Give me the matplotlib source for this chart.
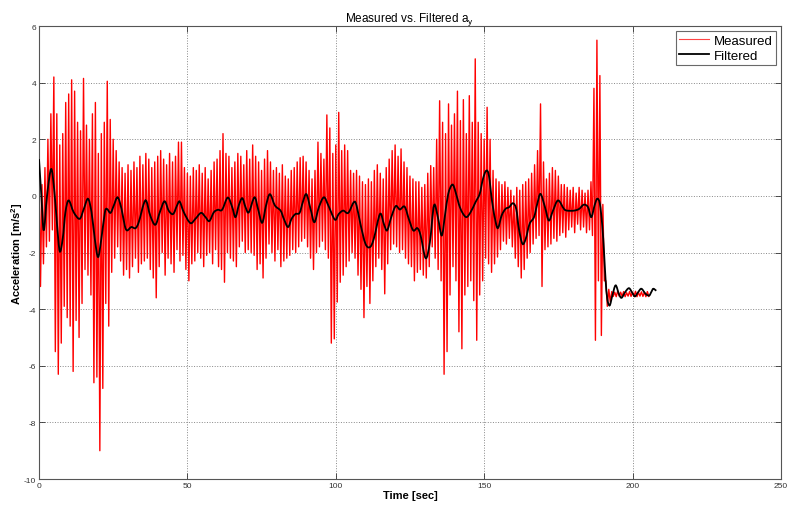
import numpy as np
import matplotlib
matplotlib.use("Agg")
import matplotlib.pyplot as plt
from matplotlib.path import Path
from matplotlib.patches import PathPatch
from matplotlib.lines import Line2D

# ---- data ----
# Measured signal: per-second upper / lower swings (t = 0..205 s)
meas_hi = [
    1.3, 0.4, 1.0, 2.0, 2.9, 4.2, 2.9, 1.8, 2.2, 3.3,
    3.6, 4.1, 3.7, 2.6, 2.3, 4.15, 2.5, 2.0, 2.9, 3.3,
    1.5, 2.2, 2.6, 4.05, 2.7, 2.0, 1.6, 1.2, 1.0, 0.8,
    1.1, 0.9, 1.2, 1.0, 1.4, 1.1, 1.5, 1.3, 1.0, 1.2,
    1.4, 1.6, 1.3, 1.1, 1.5, 1.2, 1.4, 1.9, 1.9, 1.0,
    0.8, 0.7, 1.0, 0.9, 1.1, 0.8, 1.0, 0.6, 0.9, 1.2,
    1.3, 1.6, 2.2, 1.5, 1.4, 1.0, 1.2, 1.5, 1.4, 1.1,
    1.6, 1.3, 1.8, 1.4, 1.2, 0.9, 1.3, 1.6, 1.2, 0.9,
    1.0, 0.8, 1.1, 0.7, 0.6, 0.9, 1.0, 1.2, 1.35, 1.4,
    1.2, 0.9, 0.6, 0.9, 1.9, 1.5, 1.3, 2.86, 2.4, 1.5,
    1.8, 2.95, 1.6, 1.8, 1.6, 0.9, 0.8, 0.9, 0.7, 0.5,
    0.4, 0.6, 0.5, 0.9, 1.1, 0.8, 0.6, 1.0, 1.3, 1.6,
    1.8, 1.4, 1.66, 1.2, 1.0, 0.7, 0.6, 0.5, 0.5, 0.3,
    0.4, 0.8, 1.07, 1.0, 2.0, 3.36, 2.6, 2.2, 3.25, 2.5,
    2.9, 3.7, 2.66, 3.4, 2.2, 3.54, 2.6, 4.84, 2.6, 2.2,
    2.0, 3.13, 2.0, 0.9, 0.6, 0.5, 0.4, 0.5, 0.3, 0.2,
    0.0, 0.3, 0.2, 0.4, 0.5, 0.6, 0.8, 1.1, 1.6, 3.25,
    1.2, 0.6, 0.8, 1.0, 0.9, 0.7, 0.4, 0.4, 0.3, 0.2,
    0.3, 0.1, 0.3, 0.2, 0.1, 0.2, 0.5, 3.8, 5.5, 4.25,
    -0.3, -3.0, -3.3, -3.38, -3.4, -3.36, -3.4, -3.38, -3.42, -3.38,
    -3.4, -3.37, -3.41, -3.39, -3.4, -3.38,
]
meas_lo = [
    -3.2, -2.4, -1.8, -1.6, -1.2, -5.5, -6.3, -5.2, -3.9, -4.3,
    -4.6, -6.2, -4.4, -5.0, -3.8, -2.6, -2.8, -3.5, -6.6, -6.4,
    -9.0, -6.8, -3.8, -4.6, -2.7, -2.2, -1.8, -2.3, -2.8, -2.6,
    -2.9, -2.5, -2.2, -2.7, -2.4, -2.3, -2.2, -2.6, -2.9, -3.6,
    -2.5, -2.0, -2.8, -2.2, -2.4, -2.7, -1.9, -2.3, -2.1, -2.6,
    -3.0, -2.4, -2.3, -2.0, -2.2, -2.5, -2.1, -2.0, -2.4, -1.9,
    -2.5, -2.6, -3.05, -2.0, -2.2, -2.3, -2.5, -1.8, -1.6, -2.0,
    -1.9, -2.0, -2.1, -2.6, -2.4, -2.9, -2.2, -1.7, -2.0, -2.3,
    -1.9, -2.5, -2.3, -2.2, -2.1, -1.9, -2.0, -1.8, -1.6, -1.5,
    -1.8, -2.2, -2.6, -2.0, -1.8, -1.6, -1.9, -2.2, -5.2, -5.05,
    -3.75, -3.05, -2.8, -2.5, -2.3, -2.0, -2.2, -2.8, -3.3, -4.3,
    -3.2, -3.8, -3.0, -2.5, -2.2, -2.6, -3.46, -2.4, -1.9, -1.7,
    -1.8, -2.0, -1.9, -2.2, -2.4, -2.5, -3.0, -2.7, -2.6, -2.8,
    -2.9, -2.5, -1.8, -2.2, -2.6, -3.0, -6.3, -5.5, -3.5, -2.5,
    -3.0, -4.8, -5.4, -3.5, -3.2, -3.0, -3.7, -5.1, -3.5, -3.0,
    -2.2, -2.4, -2.7, -2.4, -2.16, -1.9, -1.6, -1.7, -1.5, -1.8,
    -2.2, -2.5, -2.9, -2.6, -2.2, -2.0, -1.7, -1.5, -1.4, -3.2,
    -1.9, -1.8, -1.7, -1.5, -1.6, -1.4, -1.3, -1.46, -1.2, -1.1,
    -1.3, -1.0, -1.2, -1.1, -1.3, -1.2, -1.4, -5.1, -3.0, -4.93,
    -3.0, -3.9, -3.75, -3.55, -3.56, -3.54, -3.55, -3.56, -3.54, -3.55,
    -3.55, -3.56, -3.54, -3.55, -3.56, -3.55,
]

# Filtered signal: (time, value)
filt_t = [
    0, 0.8, 1.6, 2.7, 4.1, 5.2, 6.1, 7.0, 8.0, 8.9, 10.0, 11.7, 13.7, 15.1, 16.5,
    17.7, 18.8, 19.9, 21.0, 22.2, 22.9, 24.1, 25.2, 26.5, 27.8, 28.9, 29.7, 31.1,
    32.5, 33.6, 35.3, 36.2, 37.5, 39.2, 40.7, 42.3, 43.7, 45.2, 46.5, 47.4, 48.8,
    51.0, 52.7, 54.6, 56.1, 57.4, 58.9, 60.3, 61.7, 63.6, 65.1, 66.2, 67.3, 68.5,
    69.6, 70.7, 72.6, 73.8, 75.2, 76.5, 77.8, 79.5, 81.4, 82.5, 83.9, 85.1, 86.4,
    87.8, 88.9, 90.1, 91.5, 92.8, 94.3, 96.0, 97.5, 99.7, 101.0, 102.5, 104.2,
    106.1, 107.0, 108.3, 110.0, 111.5, 112.8, 114.9, 116.2, 117.3, 118.7, 120.2,
    121.6, 123.2, 124.6, 126.1, 127.5, 128.6, 130.3, 131.7, 133.1, 134.4, 135.7,
    136.8, 137.9, 139.3, 140.4, 141.5, 142.6, 144.0, 145.4, 147.1, 148.5, 149.6,
    150.7, 151.6, 152.7, 153.9, 154.7, 155.9, 157.2, 158.4, 159.7, 160.8, 161.7,
    162.9, 164.0, 165.3, 166.8, 167.9, 169.0, 170.5, 171.8, 173.2, 174.9, 176.9,
    178.0, 180.3, 182.0, 183.6, 185.0, 186.1, 187.2, 188.1, 189.0, 189.8, 190.4,
    190.9, 191.5, 192.3, 193.2, 194.3, 195.4, 196.3, 197.5, 198.8, 199.9, 200.8,
    201.9, 203.0, 204.4, 205.6, 206.4, 207.0, 208.0,
]
filt_v = [
    1.3, 0.0, -1.22, 0.0, 0.95, 0.13, -1.05, -1.96, -1.5, -0.58, -0.16, -0.58,
    -0.81, -0.46, -0.1, -0.58, -1.52, -2.16, -1.52, -0.58, -0.46, -0.6, -0.34,
    -0.05, -0.46, -1.05, -1.22, -1.1, -1.14, -0.93, -0.28, -0.19, -0.7, -1.02,
    -0.58, -0.19, -0.52, -0.64, -0.34, -0.2, -0.58, -0.96, -0.81, -0.6, -0.75,
    -0.89, -0.58, -0.49, -0.49, -0.06, -0.4, -0.75, -0.34, -0.08, -0.4, -0.58,
    -0.05, -0.46, -0.95, -0.34, 0.06, -0.34, -0.52, -0.81, -1.1, -0.81, -0.64,
    -0.6, -0.22, 0.06, -0.46, -0.93, -0.4, -0.05, -0.34, -0.84, -0.64, -0.52,
    -0.6, -0.22, -0.34, -0.99, -1.69, -1.81, -1.52, -0.64, -0.99, -1.22, -0.75,
    -0.36, -0.48, -0.38, -0.81, -1.22, -1.14, -1.4, -2.2, -1.64, -0.34, -0.75,
    -1.4, -0.69, 0.07, 0.4, 0.13, -0.3, -0.58, -0.75, -0.58, -0.22, 0.07, 0.6,
    0.89, 0.72, -0.22, -0.93, -1.13, -0.69, -0.46, -0.4, -0.26, -0.46, -1.16,
    -1.69, -1.52, -0.99, -0.75, -0.28, 0.07, -0.4, -0.87, -0.52, -0.16, -0.46,
    -0.52, -0.52, -0.46, -0.31, -0.4, -0.75, -0.34, -0.1, -0.28, -1.05, -1.99,
    -2.93, -3.64, -3.87, -3.52, -3.16, -3.46, -3.6, -3.4, -3.26, -3.42, -3.55,
    -3.4, -3.28, -3.46, -3.52, -3.38, -3.28, -3.35,
]

x_ticks = [0, 50, 100, 150, 200, 250]
y_ticks = [-10, -8, -6, -4, -2, 0, 2, 4, 6]

# ---- build measured trace (upper/lower swing each second) ----
meas_v = np.column_stack([meas_hi, meas_lo]).ravel()
meas_t = np.arange(len(meas_v)) * 0.5

plt.rcParams['font.family'] = ['Liberation Sans', 'DejaVu Sans']
plt.rcParams['mathtext.default'] = 'regular'
plt.rcParams['axes.unicode_minus'] = False

fig = plt.figure(figsize=(7.88, 5.10), dpi=100)
ax = fig.add_axes([0.0495, 0.0588, 0.9415, 0.8882])

ax.plot(meas_t, meas_v, color='#ff0000', lw=1.0, label='Measured')

# Filtered: smooth Bezier path drawn through the read points (Catmull-Rom)
P = np.column_stack([filt_t, filt_v])
verts = [tuple(P[0])]
codes = [Path.MOVETO]
n = len(P)
for i in range(n - 1):
    p0 = P[max(i - 1, 0)]
    p1 = P[i]
    p2 = P[i + 1]
    p3 = P[min(i + 2, n - 1)]
    c1 = p1 + (p2 - p0) / 6.0
    c2 = p2 - (p3 - p1) / 6.0
    verts += [tuple(c1), tuple(c2), tuple(p2)]
    codes += [Path.CURVE4] * 3
ax.add_patch(PathPatch(Path(verts, codes), facecolor='none', edgecolor='black',
                       lw=1.3, transform=ax.transData, zorder=3))
filt_handle = Line2D([], [], color='black', lw=1.3, label='Filtered')

ax.set_xlim(0, 250)
ax.set_ylim(-10, 6)
ax.set_xticks(x_ticks)
ax.set_yticks(y_ticks)
ax.tick_params(direction='in', top=True, right=True, length=4, width=0.6,
               labelsize=6, colors='#333333', pad=2)
for s in ax.spines.values():
    s.set_linewidth(0.8)
    s.set_color('#555555')
ax.grid(True, linestyle=':', color='#888888', linewidth=0.7)

ax.set_title('Measured vs. Filtered a$_y$', fontsize=8.5, pad=4)
ax.set_xlabel('Time [sec]', fontsize=8, fontweight='bold', labelpad=1)
ax.set_ylabel('Acceleration [m/s$^2$]', fontsize=8, fontweight='bold')
ax.yaxis.set_label_coords(-0.019, 0.5)

meas_handle = Line2D([], [], color='#ff4444', lw=0.8, label='Measured')
leg = ax.legend(handles=[meas_handle, filt_handle], loc='upper right',
                fontsize=9.5, frameon=True, fancybox=False,
                handlelength=2.3, handletextpad=0.3, borderpad=0.25,
                labelspacing=0.2, borderaxespad=0.4)
leg.get_frame().set_edgecolor('#444444')
leg.get_frame().set_linewidth(0.8)

fig.savefig('out.png', dpi=100, facecolor='white')
